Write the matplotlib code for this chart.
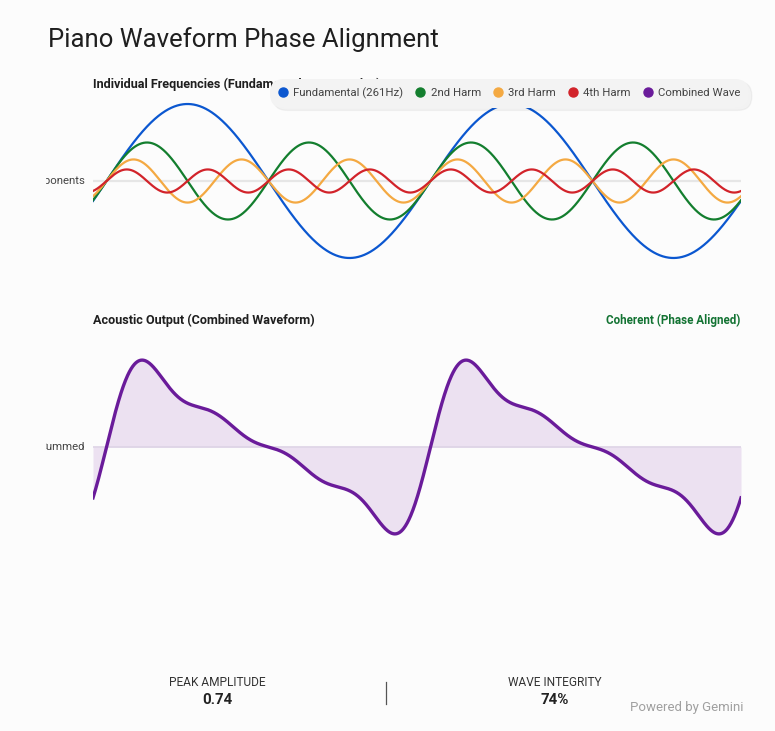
import numpy as np
import matplotlib.pyplot as plt
from matplotlib.lines import Line2D
from matplotlib.transforms import Bbox, TransformedBbox, blended_transform_factory

# harmonic components
harm_names = ["Fundamental (261Hz)", "2nd Harm", "3rd Harm", "4th Harm"]
harm_order = [1, 2, 3, 4]
harm_amp = [1.0, 0.5, 0.28, 0.15]
harm_colors = ["#0b57d0", "#137e2e", "#f4a942", "#d2232a"]
combo_name = "Combined Wave"
combo_color = "#6a1b9a"

# phase window shown (degrees of the fundamental)
phase_start = -15
phase_end = 705

stat_labels = ["PEAK AMPLITUDE", "WAVE INTEGRITY"]
stat_values = ["0.74", "74%"]

BG = "#fcfcfc"
W, H = 775, 731
plt.rcParams['font.family'] = ['Roboto', 'DejaVu Sans']

fig = plt.figure(figsize=(W / 100, H / 100), dpi=100, facecolor=BG)

def fx(px):
    return px / W

def fy(py):
    return 1 - py / H

theta = np.linspace(phase_start, phase_end, 1500)
rad = np.deg2rad(theta)
waves = [a * np.sin(k * rad) for k, a in zip(harm_order, harm_amp)]
combined = np.sum(waves, axis=0)

# top panel: individual frequencies
ax1 = fig.add_axes([fx(93), fy(267), fx(648), 172 / H])
ax1.set_facecolor(BG)
ax1.axhline(0, color="#e6e6e6", lw=1.6, zorder=0)
for w, c in zip(waves, harm_colors):
    ax1.plot(theta, w, color=c, lw=1.6)
ax1.set_xlim(phase_start, phase_end)
ax1.set_ylim(-1.117, 1.117)
ax1.axis("off")

# bottom panel: combined waveform
ax2 = fig.add_axes([fx(93), fy(559), fx(648), 224 / H])
ax2.set_facecolor(BG)
ax2.fill_between(theta, combined, 0, color="#ece1f1", lw=0, zorder=1)
ax2.axhline(0, color="#ddd3e6", lw=1.2, zorder=2)
ax2.plot(theta, combined, color=combo_color, lw=2.4, zorder=3)
ax2.set_xlim(phase_start, phase_end)
ax2.set_ylim(-1.842, 1.842)
ax2.axis("off")

# y labels, cut off at the left edge like the original
clip = TransformedBbox(Bbox([[fx(46), 0], [1, 1]]), fig.transFigure)
for ax, lab in [(ax1, "Components"), (ax2, "Summed")]:
    tr = blended_transform_factory(fig.transFigure, ax.transData)
    t = fig.text(fx(85), 0, lab, transform=tr, ha="right", va="center",
                 fontsize=8.2, color="#444444")
    t.set_clip_box(clip)
    t.set_clip_on(True)

# titles
fig.text(fx(48), fy(40), "Piano Waveform Phase Alignment", fontsize=18.5,
         color="#1f1f1f", va="center", ha="left")
fig.text(fx(93), fy(84), "Individual Frequencies (Fundamental + Harmonics)",
         fontsize=9.1, fontweight="bold", color="#1f1f1f", va="center")
fig.text(fx(93), fy(320), "Acoustic Output (Combined Waveform)",
         fontsize=9.1, fontweight="bold", color="#1f1f1f", va="center")
fig.text(fx(740), fy(320), "Coherent (Phase Aligned)", fontsize=8.4,
         fontweight="bold", color="#137333", va="center", ha="right")

# legend (sits over the end of the first subtitle, as in the original)
handles = [Line2D([], [], marker="o", ls="", color=c, markersize=6.5)
           for c in harm_colors + [combo_color]]
leg = fig.legend(handles, harm_names + [combo_name], loc="upper right",
                 bbox_to_anchor=(fx(749), fy(79)), ncol=5, fontsize=8.2,
                 frameon=True, handlelength=0.7, handletextpad=0.55,
                 columnspacing=1.15, borderpad=0.75, borderaxespad=0,
                 labelcolor="#444444",
                 shadow={"color": "#000000", "alpha": 0.04})
frame = leg.get_frame()
frame.set_facecolor("#f3f3f3")
frame.set_edgecolor("none")
frame.set_boxstyle("round", pad=0, rounding_size=1.2)

# stats at the bottom
for cx, lab, val in zip([217, 555], stat_labels, stat_values):
    fig.text(fx(cx), fy(682), lab, fontsize=8.6, color="#333333",
             ha="center", va="center")
    fig.text(fx(cx), fy(700), val, fontsize=10.8, fontweight="bold",
             color="#222222", ha="center", va="center")
fig.add_artist(Line2D([fx(386), fx(386)], [fy(682), fy(704)],
                      color="#555555", lw=0.9))
fig.text(fx(744), fy(708), "Powered by Gemini", fontsize=9.5, color="#a0a0a0",
         ha="right", va="center")

fig.savefig("out.png", dpi=100, facecolor=BG)
